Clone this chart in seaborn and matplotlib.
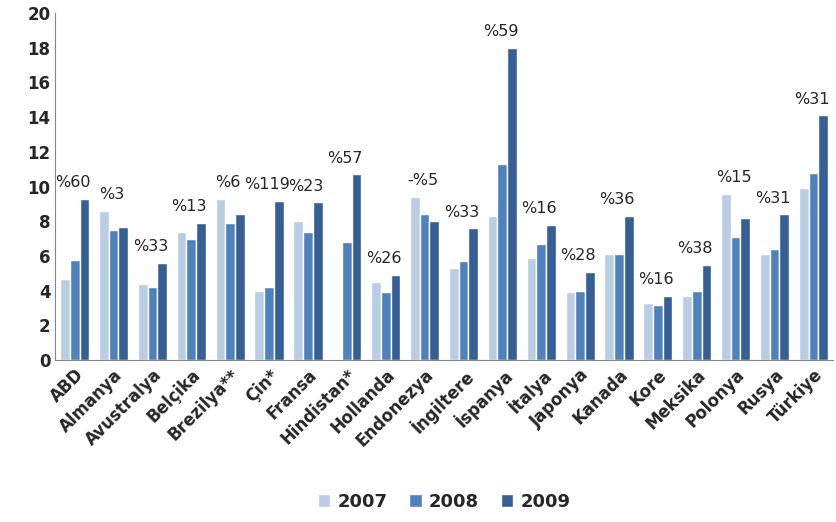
import numpy as np
import pandas as pd
import matplotlib.pyplot as plt
import seaborn as sns

countries = ["ABD", "Almanya", "Avustralya", "Belçika", "Brezilya**", "Çin*", "Fransa",
             "Hindistan*", "Hollanda", "Endonezya", "İngiltere", "İspanya", "İtalya",
             "Japonya", "Kanada", "Kore", "Meksika", "Polonya", "Rusya", "Türkiye"]
v2007 = [4.7, 8.6, 4.4, 7.4, 9.3, 4.0, 8.0, np.nan, 4.5, 9.4, 5.3, 8.3, 5.9, 3.9, 6.1, 3.3, 3.7, 9.6, 6.1, 9.9]
v2008 = [5.8, 7.5, 4.2, 7.0, 7.9, 4.2, 7.4, 6.8, 3.9, 8.4, 5.7, 11.3, 6.7, 4.0, 6.1, 3.2, 4.0, 7.1, 6.4, 10.8]
v2009 = [9.3, 7.7, 5.6, 7.9, 8.4, 9.2, 9.1, 10.7, 4.9, 8.0, 7.6, 18.0, 7.8, 5.1, 8.3, 3.7, 5.5, 8.2, 8.4, 14.1]
changes = ["%60", "%3", "%33", "%13", "%6", "%119", "%23", "%57", "%26", "-%5", "%33", "%59",
           "%16", "%28", "%36", "%16", "%38", "%15", "%31", "%31"]
years = ["2007", "2008", "2009"]
colors = ["#b9cde5", "#4f81bd", "#365f95"]

df = pd.DataFrame({"country": countries * 3,
                   "year": sum([[y] * len(countries) for y in years], []),
                   "value": v2007 + v2008 + v2009})

sns.set_style("white")
fig, ax = plt.subplots(figsize=(8.37, 5.22), dpi=100)
fig.subplots_adjust(left=0.066, right=0.995, top=0.975, bottom=0.31)

sns.barplot(data=df, x="country", y="value", hue="year", palette=colors,
            width=0.75, gap=0.0, ax=ax, saturation=1)

for i, lab in enumerate(changes):
    top = np.nanmax([v2007[i], v2008[i], v2009[i]])
    ax.text(i - 0.05, top + 0.5, lab, ha="center", va="bottom", fontsize=11.5)

ax.set_ylim(0, 20)
ax.set_yticks(range(0, 21, 2))
ax.set_xlim(-0.5, len(countries) - 0.5)
ax.set_xlabel("")
ax.set_ylabel("")
ax.tick_params(axis="y", labelsize=12, length=0)
for t in ax.get_yticklabels():
    t.set_fontweight("bold")
ax.set_xticks(range(len(countries)))
ax.set_xticklabels(countries, rotation=45, ha="right", rotation_mode="anchor",
                   fontsize=12, fontweight="bold")
ax.tick_params(axis="x", length=0, pad=4)
for s in ["top", "right"]:
    ax.spines[s].set_visible(False)
for s in ["left", "bottom"]:
    ax.spines[s].set_color("#868686")

ax.legend(loc="upper center", bbox_to_anchor=(0.5, -0.335), ncol=3, frameon=False,
          prop={"weight": "bold", "size": 13}, handlelength=0.7, handleheight=0.7,
          columnspacing=1.2, handletextpad=0.4)

fig.savefig("out.png", dpi=100)
